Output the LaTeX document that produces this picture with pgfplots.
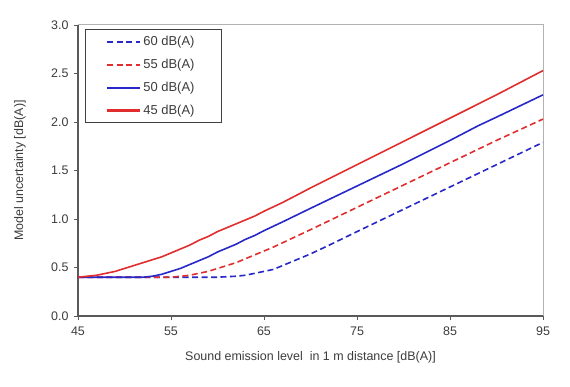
\documentclass[border=0pt]{standalone}
\usepackage{pgfplots}
\pgfplotsset{compat=1.18}
\usepackage{fontspec}
\setmainfont{Liberation Sans}
\definecolor{cblue}{RGB}{40,40,200}
\definecolor{cred}{RGB}{225,45,45}
\definecolor{txt}{RGB}{60,60,60}
\begin{document}
\begin{tikzpicture}
\path[use as bounding box] (-78bp,-71bp) rectangle (492bp,316bp);
\begin{axis}[
  at={(0,0)}, anchor=south west,
  scale only axis, width=465bp, height=291bp,
  xmin=45, xmax=95, ymin=0, ymax=3,
  xtick={45,55,...,95}, ytick={0,0.5,...,3},
  yticklabel style={/pgf/number format/fixed, /pgf/number format/fixed zerofill, /pgf/number format/precision=1, xshift=-2bp},
  xticklabel style={/pgf/number format/fixed, /pgf/number format/precision=0, yshift=-3bp},
  /pgf/number format/assume math mode=true,
  font=\fontsize{12.5}{14}\selectfont,
  tick label style={text=txt},
  label style={text=txt},
  axis line style={draw=none},
  tick style={draw=black!65, line width=0.9bp},
  tick align=outside, major tick length=4bp,
  xtick pos=bottom, ytick pos=left,
  xlabel={Sound emission level\ \ in 1 m distance [dB(A)]},
  ylabel={Model uncertainty [dB(A)]},
  xlabel style={at={(axis description cs:0.5,-0.141)}, anchor=center},
  ylabel style={at={(axis description cs:-0.125,0.5)}, anchor=center},
  legend style={at={(7bp,287bp)}, anchor=north west, draw=black!75, line width=1bp,
    inner xsep=3bp, inner ysep=5bp, row sep=8bp,
    font=\fontsize{13}{14}\selectfont, text=txt,
    legend cell align=left},
  legend image code/.code={\path (0,0); \draw[#1, line width=2.2bp] (18bp,0) -- (51bp,0);},
  every axis plot/.append style={line width=1.6bp},
  clip=false,
]
\draw[black!30, line width=1bp] (axis cs:45,3) -- (axis cs:95,3) -- (axis cs:95,0);
\draw[black!65, line width=1.2bp] (axis cs:45,3) -- (axis cs:45,0) -- (axis cs:95,0);
\addplot[cblue, dash pattern=on 6bp off 3.5bp] coordinates {
(45,0.40) (50,0.40) (55,0.40) (58,0.40) (60,0.40) (62,0.41) (63,0.42) (64,0.44) (65,0.46) (66,0.48) (67,0.52) (68,0.56) (69,0.60) (70,0.64) (72,0.73) (75,0.87) (80,1.10) (85,1.33) (90,1.56) (95,1.79)};
\addlegendentry{\makebox[73bp][l]{60 dB(A)}}
\addplot[cred, dash pattern=on 6bp off 3.5bp] coordinates {
(45,0.40) (50,0.40) (53,0.40) (55,0.40) (56,0.41) (57,0.42) (58,0.44) (59,0.46) (60,0.49) (61,0.52) (62,0.55) (63,0.59) (64,0.63) (65,0.67) (66,0.71) (68,0.80) (70,0.89) (75,1.12) (80,1.35) (85,1.58) (90,1.81) (95,2.03)};
\addlegendentry{\makebox[73bp][l]{55 dB(A)}}
\addplot[cblue] coordinates {
(45,0.40) (48,0.40) (50,0.40) (52,0.40) (53,0.41) (54,0.43) (55,0.46) (56,0.49) (57,0.53) (58,0.57) (59,0.61) (60,0.66) (61,0.70) (62,0.74) (63,0.79) (64,0.83) (65,0.88) (67,0.97) (70,1.11) (75,1.34) (80,1.57) (85,1.81) (88,1.96) (90,2.05) (95,2.28)};
\addlegendentry{\makebox[73bp][l]{50 dB(A)}}
\addplot[cred] coordinates {
(45,0.40) (46,0.41) (47,0.42) (48,0.44) (49,0.46) (50,0.49) (51,0.52) (52,0.55) (53,0.58) (54,0.61) (55,0.65) (56,0.69) (57,0.73) (58,0.78) (59,0.82) (60,0.87) (61,0.91) (62,0.95) (63,0.99) (64,1.03) (65,1.08) (67,1.17) (70,1.32) (75,1.56) (80,1.80) (85,2.04) (90,2.28) (95,2.53)};
\addlegendentry{\makebox[73bp][l]{45 dB(A)}}
\end{axis}
\end{tikzpicture}
\end{document}
